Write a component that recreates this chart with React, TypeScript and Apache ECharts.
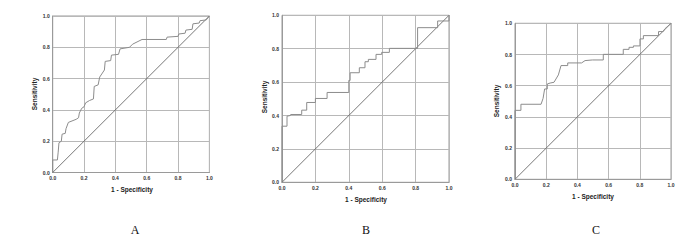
import React, { useEffect, useRef } from "react";
import * as echarts from "echarts";

const panelLetters = ["A", "B", "C"];
const tickValues = [0, 0.2, 0.4, 0.6, 0.8, 1.0];
const xAxisTitle = "1 - Specificity";
const yAxisTitle = "Sensitivity";

const rocA: [number, number][] = [
  [0, 0], [0, 0.08], [0.03, 0.08], [0.035, 0.13], [0.04, 0.19], [0.055, 0.2], [0.06, 0.245],
  [0.08, 0.25], [0.085, 0.28], [0.1, 0.32], [0.15, 0.34], [0.165, 0.35], [0.17, 0.38],
  [0.185, 0.41], [0.2, 0.42], [0.21, 0.445], [0.235, 0.46], [0.26, 0.47], [0.265, 0.55],
  [0.29, 0.56], [0.3, 0.61], [0.33, 0.655], [0.335, 0.71], [0.37, 0.715], [0.375, 0.75],
  [0.42, 0.755], [0.43, 0.79], [0.49, 0.8], [0.51, 0.82], [0.57, 0.85], [0.725, 0.85],
  [0.73, 0.865], [0.8, 0.87], [0.805, 0.885], [0.845, 0.89], [0.85, 0.91], [0.89, 0.915],
  [0.895, 0.95], [0.935, 0.955], [0.94, 0.97], [0.98, 0.975], [1, 1],
];

const rocB: [number, number][] = [
  [0, 0], [0, 0.336], [0.03, 0.336], [0.03, 0.396], [0.05, 0.4], [0.052, 0.406], [0.118, 0.406],
  [0.118, 0.432], [0.148, 0.432], [0.148, 0.478], [0.2, 0.478], [0.2, 0.502], [0.27, 0.502],
  [0.27, 0.538], [0.4, 0.538], [0.4, 0.61], [0.408, 0.61], [0.408, 0.656], [0.463, 0.656],
  [0.463, 0.686], [0.497, 0.686], [0.497, 0.722], [0.517, 0.722], [0.517, 0.736], [0.563, 0.736],
  [0.563, 0.766], [0.597, 0.766], [0.597, 0.778], [0.643, 0.778], [0.643, 0.802], [0.812, 0.802],
  [0.812, 0.926], [0.932, 0.926], [0.932, 0.966], [1, 0.966], [1, 1],
];

const rocC: [number, number][] = [
  [0, 0], [0, 0.442], [0.038, 0.442], [0.038, 0.481], [0.167, 0.481], [0.18, 0.519], [0.19, 0.579],
  [0.207, 0.579], [0.207, 0.611], [0.225, 0.617], [0.25, 0.622], [0.278, 0.669], [0.295, 0.729],
  [0.338, 0.729], [0.338, 0.746], [0.427, 0.746], [0.449, 0.761], [0.496, 0.765], [0.566, 0.765],
  [0.566, 0.801], [0.694, 0.801], [0.694, 0.833], [0.731, 0.833], [0.731, 0.846], [0.759, 0.846],
  [0.759, 0.855], [0.801, 0.855], [0.801, 0.9], [0.823, 0.9], [0.823, 0.921], [0.92, 0.921],
  [0.92, 0.947], [0.95, 0.947], [0.96, 0.964], [1, 1],
];

const referenceLine: [number, number][] = [[0, 0], [1, 1]];

const curves = [rocA, rocB, rocC];

// layout (pixels)
const grids = [
  { left: 52.7, top: 16, width: 156.7, height: 156.5 },
  { left: 282, top: 15.3, width: 167, height: 167 },
  { left: 515, top: 23.3, width: 156, height: 156 },
];
const xTitlePos = [
  { x: 132, y: 189 },
  { x: 366, y: 199 },
  { x: 593, y: 196 },
];
const yTitlePos = [
  { x: 34, y: 94 },
  { x: 264, y: 97 },
  { x: 496, y: 101 },
];
const letterPos = [
  { x: 135, y: 230 },
  { x: 366, y: 230 },
  { x: 596, y: 230 },
];

export default function App() {
  const ref = useRef<HTMLDivElement>(null);
  useEffect(() => {
    if (!ref.current) return;
    const chart = echarts.init(ref.current, undefined, { renderer: "svg" });
    const fontFamily = "Liberation Sans, Arial, sans-serif";
    const axisCommon = (gi: number) => ({
      type: "value" as const,
      gridIndex: gi,
      min: 0,
      max: 1,
      interval: 0.2,
      axisLine: { show: true, lineStyle: { color: "#9a9a9a", width: 1 } },
      axisTick: { show: false },
      axisLabel: {
        fontSize: 5,
        color: "#333",
        fontWeight: "bold" as const,
        fontFamily,
        margin: 3,
        formatter: (v: number) => v.toFixed(1),
      },
      splitLine: { show: true, lineStyle: { color: "#b8b8b8", width: 1 } },
    });
    const series: any[] = [];
    curves.forEach((c, i) => {
      series.push({
        type: "line",
        xAxisIndex: i,
        yAxisIndex: i,
        data: c,
        showSymbol: false,
        lineStyle: { color: "#8c8c8c", width: 1 },
        z: 3,
      });
      series.push({
        type: "line",
        xAxisIndex: i,
        yAxisIndex: i,
        data: referenceLine,
        showSymbol: false,
        lineStyle: { color: "#555", width: 0.8 },
        z: 2,
      });
    });
    const graphic: any[] = [];
    for (let i = 0; i < 3; i++) {
      graphic.push({
        type: "text",
        x: xTitlePos[i].x,
        y: xTitlePos[i].y,
        style: {
          text: xAxisTitle,
          fontSize: 6.5,
          fontWeight: "bold",
          fontFamily,
          fill: "#222",
          align: "center",
          verticalAlign: "middle",
        },
      });
      graphic.push({
        type: "text",
        x: yTitlePos[i].x,
        y: yTitlePos[i].y,
        rotation: Math.PI / 2,
        style: {
          text: yAxisTitle,
          fontSize: 6.5,
          fontWeight: "bold",
          fontFamily,
          fill: "#222",
          align: "center",
          verticalAlign: "middle",
        },
      });
      graphic.push({
        type: "text",
        x: letterPos[i].x,
        y: letterPos[i].y,
        style: {
          text: panelLetters[i],
          fontSize: 12,
          fontFamily: "Liberation Serif, Times New Roman, serif",
          fill: "#111",
          align: "center",
          verticalAlign: "middle",
        },
      });
    }
    chart.setOption({
      animation: false,
      backgroundColor: "#fff",
      grid: grids.map((g) => ({
        ...g,
        show: true,
        borderColor: "#9a9a9a",
        borderWidth: 1,
        backgroundColor: "transparent",
        containLabel: false,
      })),
      xAxis: grids.map((_, i) => axisCommon(i)),
      yAxis: grids.map((_, i) => axisCommon(i)),
      series,
      graphic,
    });
    return () => chart.dispose();
  }, []);
  return (
    <div
      ref={ref}
      style={{ position: "absolute", left: 0, top: 0, width: 700, height: 246 }}
    />
  );
}
